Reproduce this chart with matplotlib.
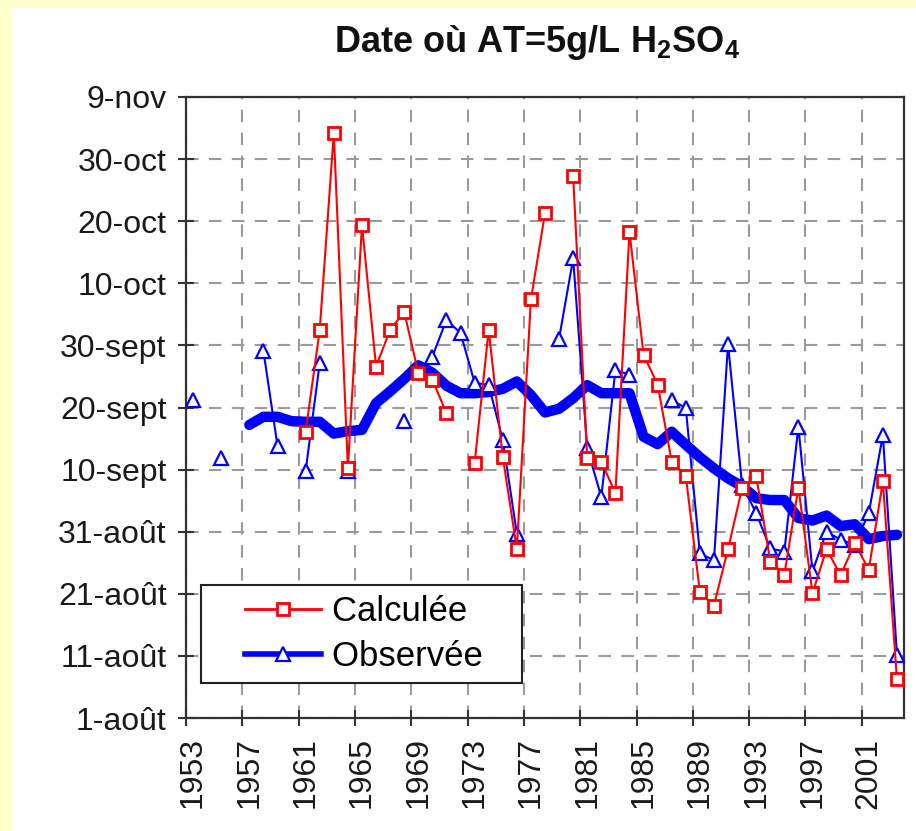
import numpy as np
import matplotlib
matplotlib.use("Agg")
import matplotlib.pyplot as plt
from matplotlib.lines import Line2D
from matplotlib.patches import Rectangle
from matplotlib.legend_handler import HandlerLine2D

plt.rcParams['font.family'] = ['Liberation Sans', 'DejaVu Sans']
plt.rcParams['mathtext.default'] = 'regular'

nan = np.nan
years = list(range(1953, 2004))

# jours depuis le 1er août
calculee = [nan, nan, nan, nan, nan, nan, nan, nan, 46.1, 62.5,
            94.2, 40.2, 79.4, 56.6, 62.5, 65.4, 55.6, 54.5, 49.1, nan,
            41.0, 62.5, 42.1, 27.2, 67.4, 81.3, nan, 87.3, 41.8, 41.3,
            36.2, 78.3, 58.5, 53.7, 41.3, 39.0, 20.3, 18.1, 27.2, 37.0,
            39.0, 25.2, 23.1, 37.1, 20.1, 27.2, 23.0, 28.1, 23.9, 38.1,
            6.2]
observee = [51.2, nan, 41.9, nan, nan, 59.1, 43.8, nan, 39.8, 57.2,
            nan, 39.8, nan, nan, nan, 47.8, nan, 58.2, 64.1, 62.0,
            54.0, 53.6, 44.8, 29.7, nan, nan, 61.1, 74.0, 43.4, 35.6,
            56.0, 55.3, nan, nan, 51.2, 49.9, 26.5, 25.4, 60.2, 37.5,
            33.0, 27.3, 26.8, 46.9, 23.6, 30.0, 28.7, 27.9, 33.0, 45.6,
            10.1]
moyenne = [nan, nan, nan, nan, 47.2, 48.5, 48.5, 47.8, 47.7, 47.7,
           45.8, 46.2, 46.4, 50.7, 52.6, 54.6, 56.8, 55.6, 53.5, 52.3,
           52.3, 52.5, 53.0, 54.2, 52.0, 49.2, 49.8, 51.5, 53.6, 52.3,
           52.3, 52.3, 45.3, 44.1, 46.1, 44.0, 42.0, 40.2, 38.6, 37.3,
           35.4, 35.1, 35.1, 32.2, 31.8, 32.6, 30.9, 31.2, 28.8, 29.3,
           29.5]

y_labels = ['1-août', '11-août', '21-août', '31-août', '10-sept', '20-sept',
            '30-sept', '10-oct', '20-oct', '30-oct', '9-nov']
x_labels = list(range(1953, 2002, 4))


class LeadHandler(HandlerLine2D):
    # laisse un blanc avant le trait de la légende
    def __init__(self, lead, **kw):
        super().__init__(**kw)
        self.lead = lead

    def create_artists(self, legend, orig_handle, xdescent, ydescent, width,
                       height, fontsize, trans):
        return super().create_artists(legend, orig_handle, xdescent - self.lead,
                                      ydescent, width - self.lead, height,
                                      fontsize, trans)


fig = plt.figure(figsize=(9.16, 8.31), dpi=100, facecolor='#FFFFCC')
fig.patches.append(Rectangle((12 / 916, 0), 1, 823 / 831, transform=fig.transFigure,
                             facecolor='white', edgecolor='none', zorder=-5))
ax = fig.add_axes([186 / 916, 1 - 718 / 831, 718 / 916, 621 / 831])
ax.set_zorder(2)

ax.plot(years, moyenne, color='blue', lw=7.5, solid_capstyle='round', zorder=3)
ax.plot(years, observee, color='blue', lw=1.5, marker='^', markersize=10,
        markerfacecolor='white', markeredgecolor='blue', markeredgewidth=1.6, zorder=4)
ax.plot(years, calculee, color='red', lw=1.5, marker='s', markersize=8,
        markerfacecolor='white', markeredgecolor='red', markeredgewidth=2, zorder=5)

ax.set_xlim(1952.5, 2003.5)
ax.set_ylim(0, 100)
ax.set_yticks(np.arange(0, 101, 10))
ax.set_yticklabels(y_labels)
ax.set_xticks(np.array(x_labels) - 0.5)
ax.set_xticklabels([])
ax.set_xticks(x_labels, minor=True)
ax.set_xticklabels([str(y) for y in x_labels], minor=True, rotation=90)
ax.tick_params(axis='x', which='minor', length=0, pad=14, labelsize=23,
               labelcolor='#1a1a1a')

ax.tick_params(axis='both', which='major', direction='inout', length=12, width=1.5,
               color='#333333', labelsize=23, labelcolor='#1a1a1a')
ax.tick_params(axis='y', pad=8)
ax.grid(True, which='major', color='#9a9a9a', linestyle=(0, (6, 5)), linewidth=1.5)
ax.set_axisbelow(True)
for s in ax.spines.values():
    s.set_color('#333333')
    s.set_linewidth(1.6)

fig.text(537 / 916, 1 - 42 / 831, 'Date où AT=5g/L H$_2$SO$_4$', ha='center', va='center',
         fontsize=26, fontweight='bold', color='#111111')

h_calc = Line2D([], [], color='red', lw=2, marker='s', markersize=8,
                markerfacecolor='white', markeredgecolor='red', markeredgewidth=2)
h_obs = Line2D([], [], color='blue', lw=4, marker='^', markersize=10,
               markerfacecolor='white', markeredgecolor='blue', markeredgewidth=1.6)
leg = ax.legend([h_calc, h_obs], ['Calculée   ', 'Observée   '], loc='lower left',
                bbox_to_anchor=(0.021, 0.056), borderaxespad=0, fontsize=25,
                fancybox=False, framealpha=1, edgecolor='#222222',
                handlelength=3.14, handletextpad=0.34, labelspacing=0.33,
                borderpad=0.3,
                handler_map={Line2D: LeadHandler(24)})
leg.get_frame().set_linewidth(1.5)

fig.savefig('out.png', dpi=100, facecolor=fig.get_facecolor())
